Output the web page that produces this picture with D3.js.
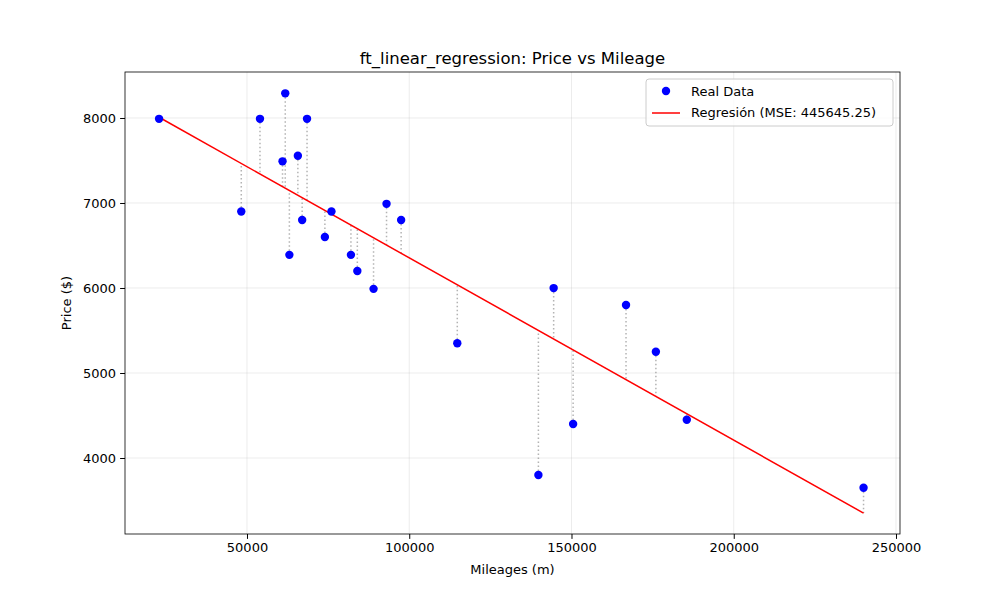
<!DOCTYPE html>
<html><head><meta charset="utf-8">
<script src="https://cdn.jsdelivr.net/npm/d3@7"></script>
<style>body{margin:0;background:#fff}text{font-family:"DejaVu Sans",sans-serif}</style>
</head><body><svg id="chart" width="1000" height="600"></svg>
<script>
const mileage = [240000,139800,150500,185530,176000,114800,166800,89000,144500,84000,82029,63060,74000,97500,67000,76025,48235,93000,60949,65674,54000,68500,22899,61789];
const price = [3650,3800,4400,4450,5250,5350,5800,5990,5999,6200,6390,6390,6600,6800,6800,6900,6900,6990,7490,7555,7990,7990,7990,8290];
const xTicks = [50000,100000,150000,200000,250000];
const yTicks = [4000,5000,6000,7000,8000];
const mseLabel = "445645.25";

// least squares fit
const n = mileage.length;
const mx = d3.mean(mileage), my = d3.mean(price);
let sxy = 0, sxx = 0;
for (let i = 0; i < n; i++) { sxy += (mileage[i]-mx)*(price[i]-my); sxx += (mileage[i]-mx)**2; }
const theta1 = sxy/sxx, theta0 = my - theta1*mx;
const predict = k => theta0 + theta1*k;

const L = 125, R = 900, T = 72, B = 534;
const svg = d3.select("#chart");
const x = d3.scaleLinear().domain([12404, 251233]).range([L, R]);
const y = d3.scaleLinear().domain([3106, 8541]).range([B, T]);

// grid
svg.append("g").selectAll("line").data(xTicks).join("line")
  .attr("x1", d => x(d)).attr("x2", d => x(d)).attr("y1", T).attr("y2", B)
  .attr("stroke", "#b0b0b0").attr("stroke-opacity", 0.3).attr("stroke-width", 0.8);
svg.append("g").selectAll("line").data(yTicks).join("line")
  .attr("y1", d => y(d)).attr("y2", d => y(d)).attr("x1", L).attr("x2", R)
  .attr("stroke", "#b0b0b0").attr("stroke-opacity", 0.3).attr("stroke-width", 0.8);

// residuals
svg.append("g").selectAll("line").data(d3.range(n)).join("line")
  .attr("x1", i => x(mileage[i])).attr("x2", i => x(mileage[i]))
  .attr("y1", i => y(price[i])).attr("y2", i => y(predict(mileage[i])))
  .attr("stroke", "gray").attr("stroke-opacity", 0.6).attr("stroke-width", 1.5)
  .attr("stroke-dasharray", "1.5,2.5");

// regression line
const ext = d3.extent(mileage);
svg.append("line")
  .attr("x1", x(ext[0])).attr("y1", y(predict(ext[0])))
  .attr("x2", x(ext[1])).attr("y2", y(predict(ext[1])))
  .attr("stroke", "red").attr("stroke-width", 1.5);

// points
svg.append("g").selectAll("circle").data(d3.range(n)).join("circle")
  .attr("cx", i => x(mileage[i])).attr("cy", i => y(price[i])).attr("r", 4.2)
  .attr("fill", "blue");

// axes
svg.append("g").attr("transform", `translate(0,${B})`)
  .call(d3.axisBottom(x).tickValues(xTicks).tickFormat(d3.format("d")).tickSizeOuter(0).tickSize(4.9).tickPadding(4))
  .call(g => g.select(".domain").remove())
  .selectAll("text").attr("font-size", 13).attr("fill", "#000");
svg.append("g").attr("transform", `translate(${L},0)`)
  .call(d3.axisLeft(y).tickValues(yTicks).tickFormat(d3.format("d")).tickSizeOuter(0).tickSize(4.9).tickPadding(4))
  .call(g => g.select(".domain").remove())
  .selectAll("text").attr("font-size", 13).attr("fill", "#000");
svg.append("rect").attr("x", L).attr("y", T).attr("width", R-L).attr("height", B-T)
  .attr("fill", "none").attr("stroke", "#000").attr("stroke-width", 0.8);

svg.append("text").attr("x", (L+R)/2).attr("y", 64).attr("text-anchor", "middle")
  .attr("font-size", 16.5).text("ft_linear_regression: Price vs Mileage");
svg.append("text").attr("x", (L+R)/2).attr("y", 574).attr("text-anchor", "middle")
  .attr("font-size", 13).text("Mileages (m)");
svg.append("text").attr("transform", `translate(71,${(T+B)/2}) rotate(-90)`).attr("text-anchor", "middle")
  .attr("font-size", 13).text("Price ($)");

// legend
const lg = svg.append("g").attr("transform", "translate(646,79)");
lg.append("rect").attr("width", 247).attr("height", 47).attr("rx", 3)
  .attr("fill", "#fff").attr("fill-opacity", 0.8).attr("stroke", "#ccc");
lg.append("circle").attr("cx", 20).attr("cy", 12).attr("r", 4.2).attr("fill", "blue");
lg.append("text").attr("x", 45).attr("y", 17).attr("font-size", 13).text("Real Data");
lg.append("line").attr("x1", 6).attr("x2", 34).attr("y1", 34).attr("y2", 34).attr("stroke", "red").attr("stroke-width", 1.5);
lg.append("text").attr("x", 45).attr("y", 38).attr("font-size", 13).text(`Regresión (MSE: ${mseLabel})`);
</script></body></html>
